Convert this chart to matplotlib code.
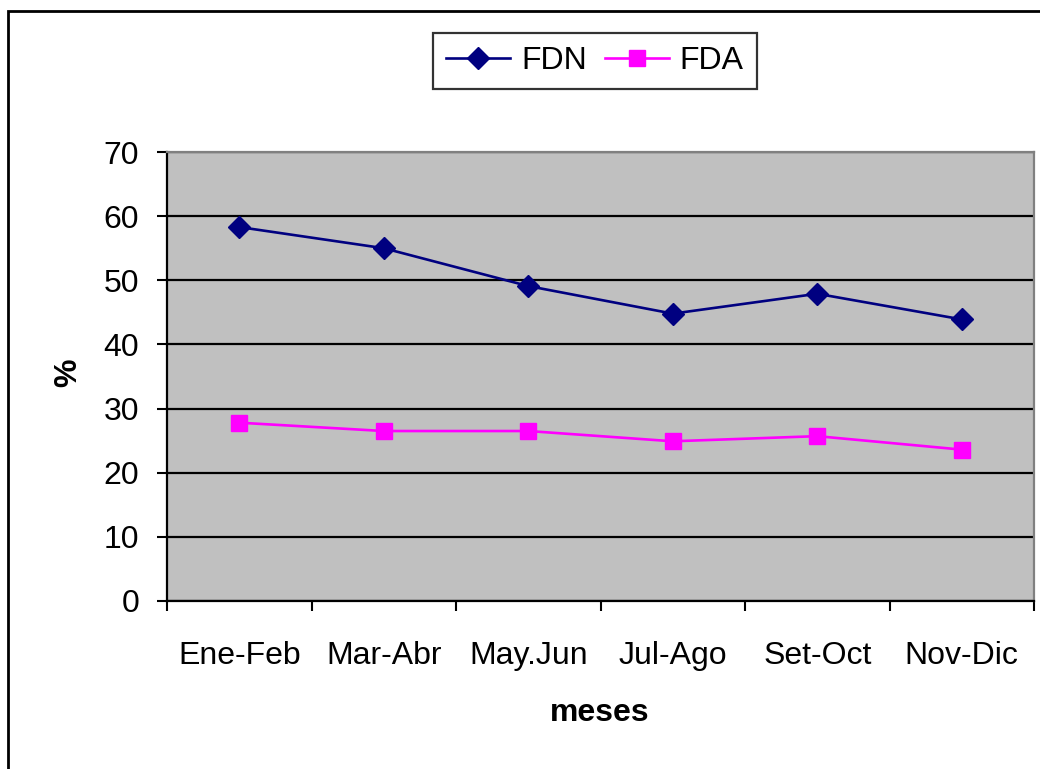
import matplotlib
matplotlib.use("Agg")
import matplotlib.pyplot as plt
from matplotlib.patches import Rectangle

plt.rcParams['font.family'] = ['Liberation Sans', 'DejaVu Sans']

meses = ['Ene-Feb', 'Mar-Abr', 'May.Jun', 'Jul-Ago', 'Set-Oct', 'Nov-Dic']
fdn = [58.3, 55.0, 49.1, 44.8, 47.9, 43.9]
fda = [27.8, 26.5, 26.5, 24.9, 25.7, 23.6]

fig = plt.figure(figsize=(10.4, 7.69), dpi=100)
ax = fig.add_axes([167 / 1040, 1 - 601 / 769, (1034 - 167) / 1040, (601 - 152) / 769])

# outer chart frame (goes off the right and bottom edge)
fig.patches.append(Rectangle((8 / 1040, -0.1), 1.2, 1.1 - 11 / 769,
                             transform=fig.transFigure, fill=False,
                             edgecolor='black', linewidth=2))

ax.set_facecolor('#c0c0c0')
x = [i + 0.5 for i in range(len(meses))]

ax.plot(x, fdn, color='#000080', marker='D', markersize=11, linewidth=1.9, label='FDN')
ax.plot(x, fda, color='#ff00ff', marker='s', markersize=11, linewidth=1.9, label='FDA')

ax.set_xlim(0, len(meses))
ax.set_ylim(0, 70)
ax.set_yticks(range(0, 71, 10))
ax.yaxis.grid(True, color='black', linewidth=1.6)
ax.set_axisbelow(True)

ax.set_xticks(range(len(meses) + 1))
ax.set_xticklabels([])
ax.set_xticks(x, minor=True)
ax.set_xticklabels(meses, minor=True)
ax.tick_params(axis='x', which='major', length=7, width=1.5, direction='out')
ax.tick_params(axis='x', which='minor', length=0, pad=29, labelsize=23)
ax.tick_params(axis='y', length=7, width=1.5, direction='out', labelsize=23, pad=13)

for s in ['left', 'bottom']:
    ax.spines[s].set_color('black')
    ax.spines[s].set_linewidth(1.6)
for s in ['top', 'right']:
    ax.spines[s].set_color('#808080')
    ax.spines[s].set_linewidth(1.6)

fig.text(600 / 1040, 1 - 713 / 769, 'meses', ha='center', va='center',
         fontsize=23, fontweight='bold')
fig.text(68 / 1040, 1 - 373 / 769, '%', ha='center', va='center',
         fontsize=23, fontweight='bold', rotation=90)

leg = fig.legend(loc='center', bbox_to_anchor=(595 / 1040, 1 - 61 / 769), ncol=2,
                 fontsize=23, frameon=True, fancybox=False, edgecolor='black',
                 handlelength=2.0, columnspacing=0.55, handletextpad=0.35,
                 borderpad=0.42, borderaxespad=0)
leg.get_frame().set_linewidth(1.6)

fig.savefig('out.png', dpi=100)
